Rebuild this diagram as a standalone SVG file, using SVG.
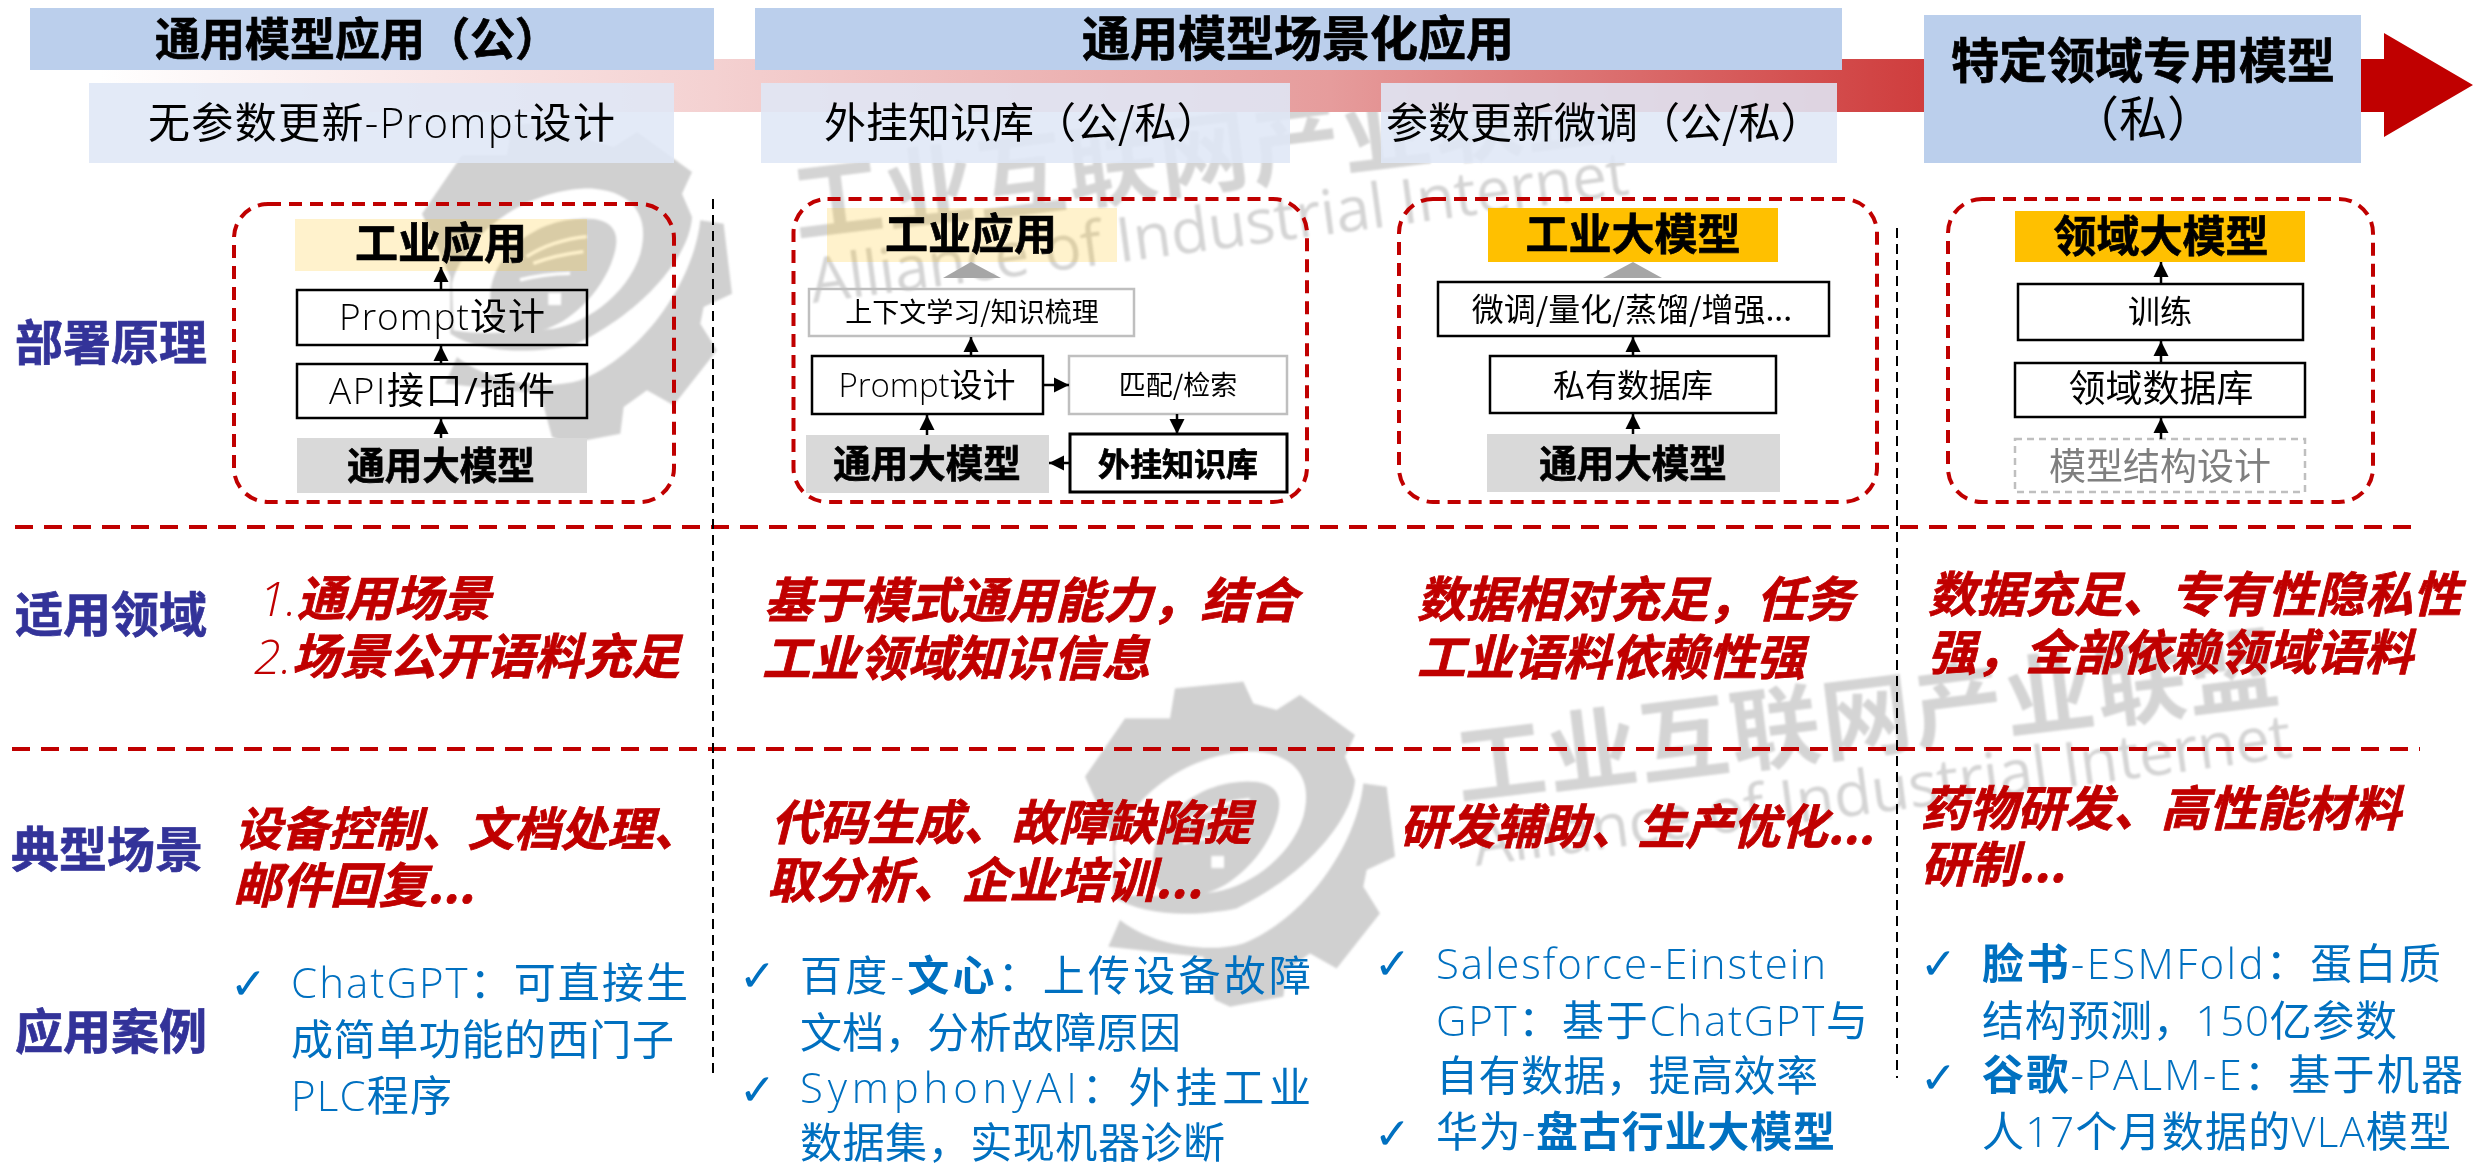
<svg xmlns="http://www.w3.org/2000/svg" xmlns:xlink="http://www.w3.org/1999/xlink" width="2473" height="1167" viewBox="0 0 2473 1167">
<style>
text{font-family:"Open Sans","Noto Sans CJK SC",sans-serif;fill:#000}
.cjk{font-family:"Noto Sans CJK SC",sans-serif}
.b{font-weight:700;font-family:"Noto Sans CJK SC",sans-serif;stroke:#000;stroke-width:.7}
.m{text-anchor:middle}
.t{font-weight:300}
.hd{fill:#bbcfec}
.sub{fill:#dfe7f6;opacity:.88}
.pale{fill:#ffc000;opacity:.2}
.gold{fill:#ffc000}
.grey{fill:#d9d9d9}
.blk{fill:none;stroke:#000;stroke-width:2.5}
.lgt{fill:none;stroke:#bfbfbf;stroke-width:2.5}
.dsh{fill:none;stroke:#bfbfbf;stroke-width:2.5;stroke-dasharray:7 5}
.frame{fill:none;stroke:#c00000;stroke-width:4;stroke-dasharray:13 8}
.hr{stroke:#c00000;stroke-width:4;stroke-dasharray:18 11;fill:none}
.vr{stroke:#000;stroke-width:2;stroke-dasharray:10 6;fill:none}
.ar{stroke:#000;stroke-width:2.5;fill:none;marker-end:url(#ah)}
.lab{font-size:48px;font-weight:700;fill:#333399;stroke:#333399;stroke-width:.7;font-family:"Noto Sans CJK SC",sans-serif}
.red{font-size:48.5px;font-weight:700;font-style:italic;fill:#c00000;stroke:#c00000;stroke-width:.8;font-family:"Noto Sans CJK SC",sans-serif}
.redt{font-weight:300;stroke:none;font-family:"Open Sans",sans-serif}
.blue{font-size:42px;fill:#0070c0}
.blue .t{fill:#0070c0}
.blue .bb{font-weight:700;fill:#0070c0;font-family:"Noto Sans CJK SC",sans-serif}
.chk{font-size:44px;fill:#0070c0;font-family:"DejaVu Sans",sans-serif}
.wm{fill:#d0d0d0}
.wmt{fill:#d4d4d4;font-weight:700;font-family:"Noto Sans CJK SC",sans-serif;font-size:90px}
.wme{fill:#d4d4d4;font-family:"Open Sans",sans-serif;font-size:62px}
</style>
<defs>
<filter id="soft" x="-5%" y="-5%" width="110%" height="110%"><feGaussianBlur stdDeviation=".8"/></filter>
<linearGradient id="band" gradientUnits="userSpaceOnUse" x1="100" y1="0" x2="2361" y2="0">
<stop offset="0" stop-color="#ffffff"/>
<stop offset=".2716" stop-color="#f4d1d1"/>
<stop offset=".5440" stop-color="#e69c9c"/>
<stop offset=".7829" stop-color="#d14545"/>
<stop offset="1" stop-color="#c00000"/>
</linearGradient>
<marker id="ah" markerUnits="userSpaceOnUse" markerWidth="16" markerHeight="16" refX="15" refY="8" orient="auto">
<path d="M0,0.5 L15,8 L0,15.5 Z" fill="#000"/>
</marker>
<g id="gear" transform="scale(.3333)">
<path class="wm" d="M45,350 L165,175 L300,175 L315,85 L520,65 L550,130 L620,150 L690,105 L855,225 L825,290 L855,360 C850,470 720,640 500,745 C380,770 220,770 130,710 L130,540 Z"/>
<path fill="#fff" d="M135,560 C180,400 370,270 560,275 C680,285 730,360 700,470 C660,600 520,690 420,697 C340,705 220,715 140,700 Z"/>
<path class="wm" d="M250,590 C260,470 380,370 520,365 C610,360 640,400 625,460 C600,570 500,670 420,695 C350,720 270,720 250,660 Z"/>
<path class="wm" d="M880,370 L950,380 L975,590 L890,630 L880,680 L930,760 L800,925 L720,880 L650,930 L640,1010 L480,1040 L435,1020 L400,890 L300,880 L115,860 L150,780 C250,860 420,880 520,850 C700,780 860,560 880,370 Z"/>
<g fill="none" stroke="#fff" stroke-width="10"><path d="M359,479 C420,440 480,425 539,419"/><path d="M379,499 C430,480 480,470 529,464"/><path d="M339,549 C390,535 440,530 489,529"/></g>
<rect x="424" y="588" width="38" height="36" fill="#fff"/>
</g>
</defs>

<g id="watermark" filter="url(#soft)">
<use xlink:href="#gear" href="#gear" transform="translate(407,97)"/>
<use xlink:href="#gear" href="#gear" transform="translate(1070,660)"/>
<text class="wmt" transform="translate(797,237) rotate(-7)" textLength="827">工业互联网产业联盟</text>
<text class="wme" transform="translate(813,303) rotate(-7.6)" textLength="825">Alliance of Industrial Internet</text>
<text class="wmt" transform="translate(1460,800) rotate(-7)" textLength="827">工业互联网产业联盟</text>
<text class="wme" transform="translate(1476,866) rotate(-7.6)" textLength="825">Alliance of Industrial Internet</text>
</g>

<path id="progress-arrow" d="M100,59 L2384,59 L2384,33 L2473,85 L2384,137 L2384,112 L100,112 Z" fill="url(#band)"/>

<g id="header-general">
<rect class="hd" x="30" y="8" width="684" height="62"/>
<text class="b" x="155" y="56" font-size="45">通用模型应用（公）</text>
</g>
<g id="header-scenario">
<rect class="hd" x="755" y="8" width="1087" height="62"/>
<text class="b m" x="1298" y="56" font-size="48">通用模型场景化应用</text>
</g>
<g id="header-domain">
<rect class="hd" x="1924" y="15" width="437" height="148"/>
<text class="b m" x="2143" y="78" font-size="48">特定领域专用模型</text>
<text class="cjk m" x="2143" y="136" font-size="48">（私）</text>
</g>
<g id="sub-prompt">
<rect class="sub" x="89" y="83" width="585" height="80"/>
<text x="148" y="138" font-size="42" textLength="467">无参数更新<tspan class="t">-Prompt</tspan>设计</text>
</g>
<g id="sub-knowledge">
<rect class="sub" x="761" y="83" width="529" height="80"/>
<text class="cjk" x="824" y="138" font-size="42">外挂知识库（公/私）</text>
</g>
<g id="sub-finetune">
<rect class="sub" x="1381" y="83" width="456" height="80"/>
<text class="cjk" x="1386" y="138" font-size="42">参数更新微调（公/私）</text>
</g>

<g id="row-labels">
<text class="lab" x="15" y="360">部署原理</text>
<text class="lab" x="15" y="632">适用领域</text>
<text class="lab" x="11" y="867">典型场景</text>
<text class="lab" x="15" y="1049">应用案例</text>
</g>

<g id="dividers">
<line class="hr" x1="15" y1="527" x2="2420" y2="527"/>
<line class="hr" x1="12" y1="749" x2="2420" y2="749"/>
<line class="vr" x1="713" y1="199" x2="713" y2="1078"/>
<line class="vr" x1="1897" y1="228" x2="1897" y2="1078"/>
</g>

<g id="frames">
<rect class="frame" x="234" y="204" width="440" height="298" rx="34" ry="34"/>
<rect class="frame" x="793.5" y="199" width="513.5" height="303" rx="34" ry="34"/>
<rect class="frame" x="1399" y="199" width="478" height="303" rx="34" ry="34"/>
<rect class="frame" x="1948" y="199" width="425" height="303" rx="34" ry="34"/>
</g>

<g id="n1-app"><rect class="pale" x="295" y="219" width="292" height="52"/><text class="b m" x="441" y="259" font-size="43">工业应用</text></g>
<g id="n1-prompt"><rect class="blk" x="297" y="290" width="290" height="55"/><text class="m" x="442" y="330" font-size="37" textLength="206"><tspan class="t">Prompt</tspan>设计</text></g>
<g id="n1-api"><rect class="blk" x="297" y="364" width="290" height="54"/><text class="m" x="442" y="404" font-size="37" textLength="226"><tspan class="t">API</tspan>接口/插件</text></g>
<g id="n1-base"><rect class="grey" x="297" y="438" width="290" height="55"/><text class="b m" x="441" y="479" font-size="37.5">通用大模型</text></g>

<g id="n2-app"><rect class="pale" x="827" y="208" width="290" height="54"/><text class="b m" x="971" y="250" font-size="43">工业应用</text></g>
<polygon id="n2-tri" points="971,262 1001,278 943,278" fill="#a6a6a6"/>
<g id="n2-context"><rect class="lgt" x="809" y="289" width="325" height="47"/><text class="cjk m" x="972" y="322" font-size="27">上下文学习/知识梳理</text></g>
<g id="n2-prompt"><rect class="blk" x="812" y="356" width="231" height="58"/><text class="m" x="927" y="397" font-size="33" textLength="177"><tspan class="t">Prompt</tspan>设计</text></g>
<g id="n2-match"><rect class="lgt" x="1069" y="356" width="218" height="58"/><text class="cjk m" x="1178" y="395" font-size="27">匹配/检索</text></g>
<g id="n2-base"><rect class="grey" x="806" y="435" width="243" height="58"/><text class="b m" x="927" y="477" font-size="37.5">通用大模型</text></g>
<g id="n2-kb"><rect class="blk" x="1070" y="434" width="217" height="58" style="stroke-width:3"/><text class="b m" x="1178" y="476" font-size="32">外挂知识库</text></g>

<g id="n3-model"><rect class="gold" x="1488" y="208" width="290" height="54"/><text class="b m" x="1633" y="250" font-size="43">工业大模型</text></g>
<polygon id="n3-tri" points="1633,262 1662,278 1603,278" fill="#a6a6a6"/>
<g id="n3-tune"><rect class="blk" x="1438" y="282" width="391" height="54"/><text class="cjk m" x="1632" y="321" font-size="32">微调/量化/蒸馏/增强...</text></g>
<g id="n3-data"><rect class="blk" x="1490" y="356" width="286" height="57"/><text class="cjk m" x="1633" y="397" font-size="32">私有数据库</text></g>
<g id="n3-base"><rect class="grey" x="1487" y="434" width="293" height="58"/><text class="b m" x="1633" y="477" font-size="37.5">通用大模型</text></g>

<g id="n4-model"><rect class="gold" x="2015" y="211" width="290" height="51"/><text class="b m" x="2161" y="252" font-size="43">领域大模型</text></g>
<g id="n4-train"><rect class="blk" x="2018" y="284" width="285" height="56"/><text class="cjk m" x="2160" y="323" font-size="32">训练</text></g>
<g id="n4-data"><rect class="blk" x="2015" y="363" width="290" height="54"/><text class="cjk m" x="2161" y="402" font-size="37">领域数据库</text></g>
<g id="n4-design"><rect class="dsh" x="2015" y="439" width="290" height="53"/><text class="cjk m" x="2160" y="480" font-size="37" style="fill:#7f7f7f">模型结构设计</text></g>

<g id="connectors">
<line class="ar" x1="441" y1="290" x2="441" y2="267"/>
<line class="ar" x1="441" y1="364" x2="441" y2="346"/>
<line class="ar" x1="441" y1="438" x2="441" y2="419"/>
<line class="ar" x1="971" y1="356" x2="971" y2="337"/>
<line class="ar" x1="927" y1="435" x2="927" y2="415"/>
<line class="ar" x1="1043" y1="385" x2="1069" y2="385"/>
<line class="ar" x1="1177" y1="414" x2="1177" y2="434"/>
<line class="ar" x1="1070" y1="463" x2="1049" y2="463"/>
<line class="ar" x1="1633" y1="356" x2="1633" y2="337"/>
<line class="ar" x1="1633" y1="434" x2="1633" y2="414"/>
<line class="ar" x1="2161" y1="284" x2="2161" y2="262"/>
<line class="ar" x1="2161" y1="363" x2="2161" y2="341"/>
<line class="ar" x1="2161" y1="439" x2="2161" y2="418"/>
</g>

<g id="applicable">
<text class="red" x="259" y="616"><tspan class="redt">1.</tspan>通用场景</text>
<text class="red" x="254" y="674"><tspan class="redt">2.</tspan>场景公开语料充足</text>
<text class="red" x="764" y="618">基于模式通用能力，结合</text>
<text class="red" x="762" y="676">工业领域知识信息</text>
<text class="red" x="1417" y="617">数据相对充足，任务</text>
<text class="red" x="1417" y="675">工业语料依赖性强</text>
<text class="red" x="1928" y="612">数据充足、专有性隐私性</text>
<text class="red" x="1928" y="670">强，全部依赖领域语料</text>
</g>
<g id="scenarios">
<text class="red" x="235" y="846" style="font-size:46.5px">设备控制、文档处理、</text>
<text class="red" x="233" y="903">邮件回复...</text>
<text class="red" x="771" y="840" style="font-size:48px">代码生成、故障缺陷提</text>
<text class="red" x="767" y="898">取分析、企业培训...</text>
<text class="red" x="1400" y="844" style="font-size:47.5px">研发辅助、生产优化...</text>
<text class="red" x="1921" y="826" style="font-size:48px">药物研发、高性能材料</text>
<text class="red" x="1921" y="882">研制...</text>
</g>
<g id="cases">
<text class="chk" x="230" y="999">✓</text>
<text class="blue" x="291" y="998" textLength="397"><tspan class="t">ChatGPT</tspan>：可直接生</text>
<text class="blue" x="291" y="1055" textLength="383">成简单功能的西门子</text>
<text class="blue" x="291" y="1111" textLength="161"><tspan class="t">PLC</tspan>程序</text>

<text class="chk" x="739" y="991">✓</text>
<text class="blue" x="800" y="991" textLength="511">百度<tspan class="t">-</tspan><tspan class="bb">文心</tspan>：上传设备故障</text>
<text class="blue" x="800" y="1048" textLength="381">文档，分析故障原因</text>
<text class="chk" x="739" y="1105">✓</text>
<text class="blue" x="800" y="1103" textLength="511"><tspan class="t">SymphonyAI</tspan>：外挂工业</text>
<text class="blue" x="800" y="1158" textLength="425">数据集，实现机器诊断</text>

<text class="chk" x="1374" y="979">✓</text>
<text class="blue" x="1436" y="979" textLength="390"><tspan class="t">Salesforce-Einstein</tspan></text>
<text class="blue" x="1436" y="1036" textLength="432"><tspan class="t">GPT</tspan>：基于<tspan class="t">ChatGPT</tspan>与</text>
<text class="blue" x="1436" y="1091" textLength="382">自有数据，提高效率</text>
<text class="chk" x="1374" y="1149">✓</text>
<text class="blue" x="1436" y="1147" textLength="399">华为<tspan class="t">-</tspan><tspan class="bb">盘古行业大模型</tspan></text>

<text class="chk" x="1920" y="979">✓</text>
<text class="blue" x="1982" y="979" textLength="459"><tspan class="bb">脸书</tspan><tspan class="t">-ESMFold</tspan>：蛋白质</text>
<text class="blue" x="1982" y="1036" textLength="415">结构预测，<tspan class="t">150</tspan>亿参数</text>
<text class="chk" x="1920" y="1093">✓</text>
<text class="blue" x="1982" y="1090" textLength="481"><tspan class="bb">谷歌</tspan><tspan class="t">-PALM-E</tspan>：基于机器</text>
<text class="blue" x="1982" y="1147" textLength="469">人<tspan class="t">17</tspan>个月数据的<tspan class="t">VLA</tspan>模型</text>
</g>
</svg>
